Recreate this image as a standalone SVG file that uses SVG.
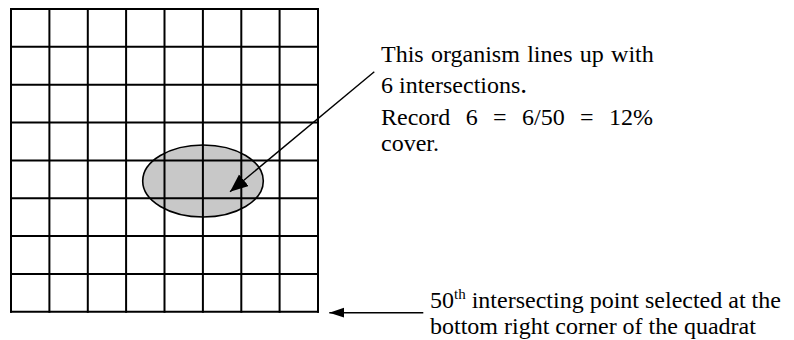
<svg xmlns="http://www.w3.org/2000/svg" width="794" height="340" viewBox="0 0 794 340">
<style>
.grid line{stroke:#000;stroke-width:2;stroke-linecap:square}
.lbl{font-size:24px;fill:#000}
.conn{stroke:#000;stroke-width:1.4;fill:none}
</style>
<defs>
<marker id="ahBig" markerUnits="userSpaceOnUse" markerWidth="19" markerHeight="16" refX="18" refY="7.5" orient="auto" viewBox="0 0 19 16">
<path d="M0,0 L18,7.5 L0,15 Z" fill="#000"/>
</marker>
<marker id="ahSmall" markerUnits="userSpaceOnUse" markerWidth="16" markerHeight="11" refX="15" refY="5" orient="auto" viewBox="0 0 16 11">
<path d="M0,0 L15,5 L0,10 Z" fill="#000"/>
</marker>
</defs>
<rect width="794" height="340" fill="#fff"/>
<g id="organism">
<ellipse cx="203" cy="181" rx="60.3" ry="36" fill="#c8c8c8" stroke="#000" stroke-width="1.6"/>
</g>
<g id="quadrat" class="grid">
<line x1="11" y1="9" x2="11" y2="311.7"/>
<line x1="49.4" y1="9" x2="49.4" y2="311.7"/>
<line x1="87.8" y1="9" x2="87.8" y2="311.7"/>
<line x1="126.1" y1="9" x2="126.1" y2="311.7"/>
<line x1="164.5" y1="9" x2="164.5" y2="311.7"/>
<line x1="202.9" y1="9" x2="202.9" y2="311.7"/>
<line x1="241.3" y1="9" x2="241.3" y2="311.7"/>
<line x1="279.6" y1="9" x2="279.6" y2="311.7"/>
<line x1="318" y1="9" x2="318" y2="311.7"/>
<line x1="11" y1="9" x2="318" y2="9"/>
<line x1="11" y1="46.8" x2="318" y2="46.8"/>
<line x1="11" y1="84.7" x2="318" y2="84.7"/>
<line x1="11" y1="122.5" x2="318" y2="122.5"/>
<line x1="11" y1="160.4" x2="318" y2="160.4"/>
<line x1="11" y1="198.2" x2="318" y2="198.2"/>
<line x1="11" y1="236" x2="318" y2="236"/>
<line x1="11" y1="273.9" x2="318" y2="273.9"/>
<line x1="11" y1="311.7" x2="318" y2="311.7"/>
</g>
<g id="organism-note" font-family="'Liberation Serif', 'DejaVu Serif', serif">
<text class="lbl" x="381" y="61.5" word-spacing="1.3">This organism lines up with</text>
<text class="lbl" x="381" y="93">6 intersections<tspan font-size="27">.</tspan></text>
<text class="lbl" y="124.5"><tspan x="381">Record</tspan><tspan x="465.7">6</tspan><tspan x="493.1">=</tspan><tspan x="522">6/50</tspan><tspan x="580.1">=</tspan><tspan x="609">12%</tspan></text>
<text class="lbl" x="381" y="151">cover.</text>
</g>
<g id="corner-note" font-family="'Liberation Serif', 'DejaVu Serif', serif">
<text class="lbl" x="430" y="307.5">50<tspan font-size="15" dy="-9">th</tspan><tspan dy="9"> intersecting point selected at the</tspan></text>
<text class="lbl" x="430" y="333.5">bottom right corner of the quadrat</text>
</g>
<g id="connectors">
<line class="conn" x1="374.3" y1="71.7" x2="230" y2="191.7" marker-end="url(#ahBig)"/>
<line class="conn" x1="423.3" y1="312.7" x2="329.3" y2="312.7" marker-end="url(#ahSmall)"/>
</g>
</svg>
